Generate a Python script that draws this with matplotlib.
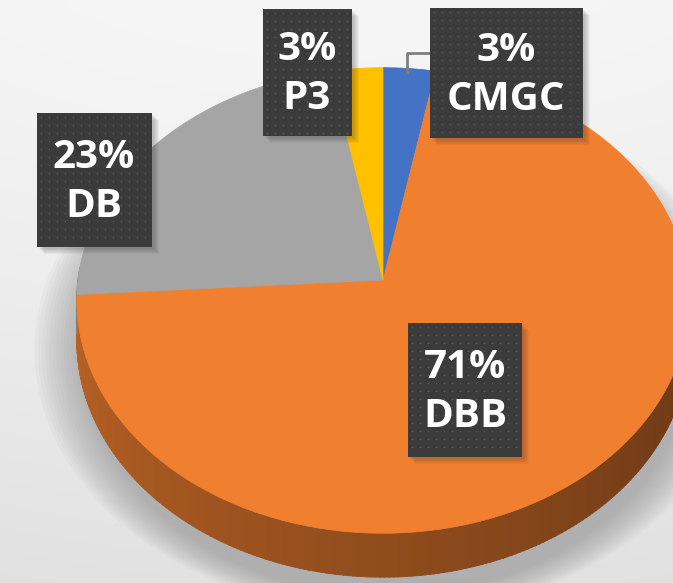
import numpy as np
import matplotlib.pyplot as plt
from matplotlib.patches import Polygon, Rectangle, Ellipse
from matplotlib.colors import to_rgb

# datos del grafico (orden de Excel: desde las 12 en sentido horario)
categorias = ['CMGC', 'DBB', 'DB', 'P3']
valores = [3, 71, 23, 3]
colores = ['#4472C4', '#F07F30', '#A5A5A5', '#FFC000']

# geometria de la "tarta 3D" en pixeles
W, H = 673, 583
cx, cy = 383, 280
a, b = 305, 231
k = 0.088      # perspectiva
prof = 40      # grosor

# cajas de etiquetas (centro x, centro y, ancho, alto)
cajas = [(506, 73, 153, 130), (465, 390, 114, 134), (94, 180, 115, 134), (307, 72, 89, 127)]


def proyectar(theta, z=0.0):
    u = np.sin(theta)
    v = -np.cos(theta)
    s = 1.0 / (1.0 - k * v)
    return cx + a * u * s, cy + b * v * s + z * s


fig = plt.figure(figsize=(W / 100, H / 100), dpi=100)
ax = fig.add_axes([0, 0, 1, 1])
ax.set_xlim(0, W)
ax.set_ylim(H, 0)
ax.axis('off')

# fondo degradado
yy, xx = np.mgrid[0:H, 0:W]
fondo = 246 - 20 * (yy / H) ** 1.3 - 6 * ((xx - W / 2) / W) ** 2
ax.imshow(np.dstack([fondo] * 3) / 255, extent=(0, W, H, 0), zorder=0)

# sombra suave bajo la tarta
for i in range(14):
    ax.add_patch(Ellipse((cx + 4, cy + 70), 2 * a * (1.0 + 0.012 * i), 2 * 245 * (1.0 + 0.006 * i),
                         color='#909090', alpha=0.06, lw=0, zorder=1))

# angulos de las porciones
fr = np.array(valores) / sum(valores)
limites = np.concatenate([[0], np.cumsum(fr)]) * 2 * np.pi

# pared lateral (solo la parte frontal)
pasos = np.linspace(np.pi / 2 - 0.05, 3 * np.pi / 2 + 0.05, 240)
for t0, t1 in zip(pasos[:-1], pasos[1:]):
    tm = (t0 + t1) / 2
    idx = np.searchsorted(limites, tm) - 1
    base = np.array(to_rgb(colores[idx]))
    f = 0.42 + 0.36 * (tm - np.pi / 2) / np.pi
    tt = np.linspace(t0, t1 + 0.004, 3)
    x1, y1 = proyectar(tt)
    x2, y2 = proyectar(tt[::-1], prof)
    pts = np.column_stack([np.concatenate([x1, x2]), np.concatenate([y1, y2])])
    ax.add_patch(Polygon(pts, closed=True, fc=base * f, ec=base * f, lw=0.6, zorder=2))

# cara superior
for i, col in enumerate(colores):
    tt = np.linspace(limites[i], limites[i + 1], 120)
    x, y = proyectar(tt)
    pts = np.column_stack([np.concatenate([[cx], x]), np.concatenate([[cy], y])])
    ax.add_patch(Polygon(pts, closed=True, fc=col, ec=col, lw=0.5, zorder=3))

# linea guia de CMGC
ax.plot([430, 407, 407], [53, 53, 72], color='#7f7f7f', lw=2, zorder=4)

# etiquetas
for (x, y, w, h), cat, val in zip(cajas, categorias, valores):
    for j in range(6):
        ax.add_patch(Rectangle((x - w / 2 + 2 + j, y - h / 2 + 2 + j), w, h,
                               fc='#303030', alpha=0.05, lw=0, zorder=5))
    ax.add_patch(Rectangle((x - w / 2, y - h / 2), w, h, fc='#3b3b3b', lw=0, zorder=6))
    gx, gy = np.meshgrid(np.arange(x - w / 2 + 4, x + w / 2 - 2, 8),
                         np.arange(y - h / 2 + 4, y + h / 2 - 2, 8))
    ax.scatter(gx.ravel(), gy.ravel(), s=1.2, color='#565656', lw=0, zorder=7)
    ax.text(x, y + 2, f'{val}%\n{cat}', ha='center', va='center', color='white',
            fontsize=29, fontweight='bold', family='Open Sans', linespacing=1.35, zorder=8)

fig.savefig('out.png', dpi=100)
